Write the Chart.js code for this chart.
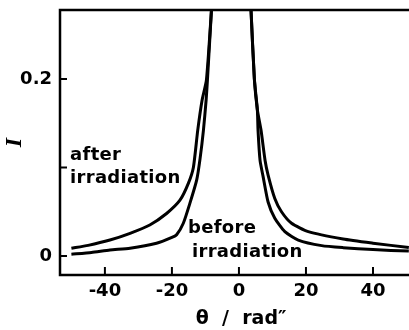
<!DOCTYPE html>
<html>
<head>
<meta charset="utf-8">
<script src="https://cdn.jsdelivr.net/npm/chart.js@4/dist/chart.umd.min.js"></script>
<style>
  html, body { margin: 0; padding: 0; background: #fff; }
  #wrap { width: 409px; height: 330px; }
</style>
</head>
<body>
<div id="wrap"><canvas id="grafico"></canvas></div>
<script>
// data
var afterX  = [-50, -45, -38.5, -32.5, -26.6, -21.6, -17.6, -15.1, -13.6, -12.3, -11.0, -9.7, -8.2, -7.4,
               3.0, 3.6, 4.6, 5.5, 6.6, 7.8, 8.7, 10.7, 12.7, 15.7, 20.7, 31.1, 40, 50.7];
var afterI  = [0.0087, 0.012, 0.018, 0.0256, 0.035, 0.048, 0.063, 0.082, 0.1, 0.142, 0.176, 0.199, 0.278, 0.33,
               0.33, 0.278, 0.2, 0.165, 0.142, 0.108, 0.0915, 0.065, 0.05, 0.037, 0.0275, 0.0192, 0.0145, 0.0095];
var beforeX = [-50, -44, -38.5, -32.5, -24.6, -20, -18.6, -16.6, -14.6, -12.6, -11.6, -10.6, -9.8, -9.4, -8.2, -7.4,
               3.0, 3.6, 4.6, 5.5, 5.7, 6.3, 7.2, 8.7, 10.7, 13.7, 17.7, 24.7, 31.1, 40, 50.7];
var beforeI = [0.002, 0.004, 0.0068, 0.0087, 0.0143, 0.021, 0.024, 0.037, 0.06, 0.086, 0.11, 0.142, 0.176, 0.199, 0.278, 0.33,
               0.33, 0.278, 0.2, 0.165, 0.142, 0.108, 0.09, 0.061, 0.0426, 0.0275, 0.018, 0.0117, 0.0094, 0.0072, 0.0055];
var xTicks = [-40, -20, 0, 20, 40];
var yTicks = [0, 0.1, 0.2];
var yLabels = {0: '0', 0.2: '0.2'};

function pares(xs, ys){
  var out = [];
  for (var i = 0; i < xs.length; i++) out.push({x: xs[i], y: ys[i]});
  return out;
}

var fonte = 'DejaVu Sans';

// frame, inward ticks and curve labels
var moldura = {
  id: 'moldura',
  afterDraw: function(chart){
    var c = chart.ctx, a = chart.chartArea;
    var sx = chart.scales.x, sy = chart.scales.y;
    c.save();
    c.strokeStyle = '#000';
    c.lineWidth = 2.5;
    c.beginPath();
    c.moveTo(409, a.top); c.lineTo(a.left, a.top);
    c.lineTo(a.left, a.bottom); c.lineTo(409, a.bottom);
    c.stroke();
    c.lineWidth = 2;
    xTicks.forEach(function(v){
      var p = sx.getPixelForValue(v);
      c.beginPath(); c.moveTo(p, a.bottom); c.lineTo(p, a.bottom - 8); c.stroke();
    });
    yTicks.forEach(function(v){
      var p = sy.getPixelForValue(v);
      c.beginPath(); c.moveTo(a.left, p); c.lineTo(a.left + 7, p); c.stroke();
    });
    c.fillStyle = '#000';
    c.font = 'bold 18px "' + fonte + '"';
    c.letterSpacing = '0.3px';
    c.textBaseline = 'middle';
    c.textAlign = 'left';
    var txt = [
      ['after', -50.4, 0.114],
      ['irradiation', -50.4, 0.088],
      ['before', -15.2, 0.0316],
      ['irradiation', -14.0, 0.0045]
    ];
    txt.forEach(function(t){
      c.fillText(t[0], sx.getPixelForValue(t[1]), sy.getPixelForValue(t[2]));
    });
    c.restore();
  }
};

new Chart(document.getElementById('grafico'), {
  type: 'scatter',
  data: {
    datasets: [{
      label: 'after irradiation',
      data: pares(afterX, afterI),
      showLine: true,
      borderColor: '#000',
      borderWidth: 3,
      pointRadius: 0,
      tension: 0.2
    }, {
      label: 'before irradiation',
      data: pares(beforeX, beforeI),
      showLine: true,
      borderColor: '#000',
      borderWidth: 3,
      pointRadius: 0,
      tension: 0.2
    }]
  },
  options: {
    responsive: true,
    maintainAspectRatio: false,
    animation: false,
    layout: { padding: { top: 10, right: 0, left: 0, bottom: 0 } },
    plugins: { legend: { display: false }, tooltip: { enabled: false } },
    scales: {
      x: {
        type: 'linear',
        min: -53.4,
        max: 50.75,
        grid: { display: false, drawTicks: false },
        border: { display: false },
        afterBuildTicks: function(s){ s.ticks = xTicks.map(function(v){ return {value: v}; }); },
        afterFit: function(s){ s.height = 55; s.paddingLeft = 0; s.paddingRight = 0; },
        ticks: {
          padding: 6,
          color: '#000',
          font: { family: fonte, size: 18, weight: 'bold' },
          callback: function(v){ return String(v); }
        },
        title: {
          display: true,
          text: '  θ  /  rad″',
          color: '#000',
          padding: 0,
          font: { family: fonte, size: 19, weight: 'bold' }
        }
      },
      y: {
        type: 'linear',
        min: -0.0215,
        max: 0.278,
        grid: { display: false, drawTicks: false },
        border: { display: false },
        afterBuildTicks: function(s){ s.ticks = yTicks.map(function(v){ return {value: v}; }); },
        afterFit: function(s){ s.width = 60; s.paddingTop = 0; s.paddingBottom = 0; },
        ticks: {
          padding: 8,
          color: '#000',
          font: { family: fonte, size: 18, weight: 'bold' },
          callback: function(v){ return yLabels[v] || ''; }
        },
        title: {
          display: true,
          text: 'I',
          color: '#000',
          padding: 0,
          font: { family: 'Liberation Serif', size: 24, style: 'italic', weight: 'bold' }
        }
      }
    }
  },
  plugins: [moldura]
});
</script>
</body>
</html>
